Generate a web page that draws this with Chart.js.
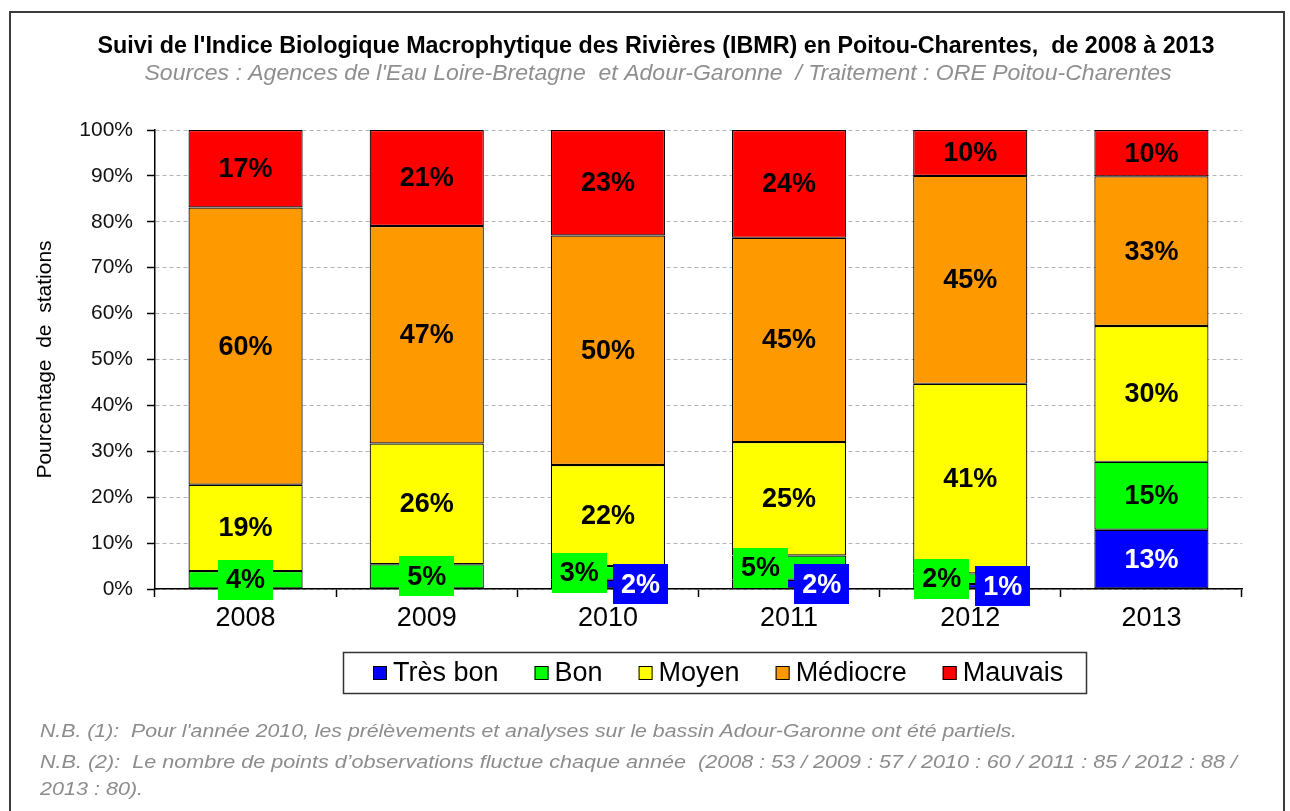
<!DOCTYPE html>
<html><head><meta charset="utf-8">
<script src="https://cdn.jsdelivr.net/npm/chart.js@4.4.0/dist/chart.umd.min.js"></script>
<style>
html,body{margin:0;padding:0;background:#fff;}
#wrap{position:relative;width:1290px;height:811px;overflow:hidden;background:#fff;}
#frame{position:absolute;left:9px;top:11px;width:1276px;height:830px;border:2px solid #3c3c3c;box-sizing:border-box;}
canvas{position:absolute;left:0;top:0;}
.fn{position:absolute;left:40px;font-family:'Liberation Sans',Arial,sans-serif;font-style:italic;font-size:19px;color:#8c8c8c;white-space:pre;transform-origin:0 50%;line-height:22px;}
</style></head><body>
<div id="wrap"><div id="frame"></div><canvas id="c" width="1290" height="811"></canvas>
<div class="fn" id="f1" style="top:720px">N.B. (1):  Pour l'année 2010, les prélèvements et analyses sur le bassin Adour-Garonne ont été partiels.</div>
<div class="fn" id="f2" style="top:751px">N.B. (2):  Le nombre de points d’observations fluctue chaque année  (2008 : 53 / 2009 : 57 / 2010 : 60 / 2011 : 85 / 2012 : 88 /</div>
<div class="fn" id="f3" style="top:778px">2013 : 80).</div>
</div>
<script>
const years = ['2008','2009','2010','2011','2012','2013'];
const tresBon  = [0, 0, 2, 2, 1.1, 12.9];
const bon      = [3.9, 5.4, 3, 5.3, 2.3, 14.8];
const moyen    = [18.8, 26.3, 22, 24.7, 41.3, 29.6];
const mediocre = [60.4, 47.4, 50, 44.5, 45.3, 32.6];
const mauvais  = [16.9, 20.9, 23, 23.5, 10, 10.1];
const yTicks = [0,10,20,30,40,50,60,70,80,90,100];
const seriesNames = ['Très bon','Bon','Moyen','Médiocre','Mauvais'];
const colors = ['#0000FF','#00FF00','#FFFF00','#FF9900','#FF0000'];
const titleText = "Suivi de l'Indice Biologique Macrophytique des Rivières (IBMR) en Poitou-Charentes,  de 2008 à 2013";
const subtitleText = "Sources : Agences de l'Eau Loire-Bretagne  et Adour-Garonne  / Traitement : ORE Poitou-Charentes";

const FONT = '"Liberation Sans", Arial, sans-serif';
Chart.defaults.font.family = FONT;
Chart.defaults.color = '#000';

function fitText(ctx, txt, cx, cy, target){
  const w = ctx.measureText(txt).width;
  const s = target / w;
  ctx.save(); ctx.translate(cx, cy); ctx.scale(s, 1); ctx.fillText(txt, 0, 0); ctx.restore();
}

const titlePlugin = {
  id:'titles',
  afterDraw(chart){
    const ctx = chart.ctx; ctx.save();
    ctx.textAlign='center'; ctx.textBaseline='middle';
    ctx.fillStyle='#000'; ctx.font='bold 23px '+FONT;
    fitText(ctx, titleText, 656, 47, 1117);
    ctx.fillStyle='#8f8f8f'; ctx.font='italic 22px '+FONT;
    fitText(ctx, subtitleText, 658, 74, 1027);
    ctx.restore();
  }
};

const labelPlugin = {
  id:'segLabels',
  afterDatasetsDraw(chart){
    const ctx = chart.ctx; ctx.save();
    ctx.font = 'bold 27px '+FONT;
    ctx.textAlign='center'; ctx.textBaseline='middle';
    [1,2,3,4,0].forEach(di=>{
      const ds = chart.data.datasets[di];
      const meta = chart.getDatasetMeta(di);
      meta.data.forEach((bar,i)=>{
        const v = ds.data[i]; if(!v) return;
        const txt = Math.round(v)+'%';
        const tw = ctx.measureText(txt).width;
        const bw = Math.round(tw+16), bh = 40;
        const p = bar.getProps(['x','y','base','width'], true);
        let cx = p.x, cy = (p.y+p.base)/2;
        const split = tresBon[i]>0 && tresBon[i]<5 && bon[i]>0;
        if(split && di===1) cx = p.x - p.width/2 + bw/2 + 1;
        if(split && di===0) cx = p.x + p.width/2 - bw/2 + 3;
        ctx.fillStyle = ds.backgroundColor;
        ctx.fillRect(Math.round(cx-bw/2), Math.round(cy-bh/2), bw, bh);
        ctx.fillStyle = di===0 ? '#fff' : '#000';
        ctx.fillText(txt, cx, cy+1);
      });
    });
    ctx.restore();
  }
};

const legendPlugin = {
  id:'customLegend',
  afterDraw(chart){
    const ctx = chart.ctx; ctx.save();
    ctx.strokeStyle='#333'; ctx.lineWidth=1.5;
    ctx.strokeRect(343.5,652.5,743,41);
    ctx.font='27px '+FONT; ctx.textBaseline='middle'; ctx.textAlign='left';
    let x = 373; const cy = 673;
    chart.data.datasets.forEach(ds=>{
      ctx.fillStyle = ds.backgroundColor; ctx.fillRect(x, cy-7, 14, 14);
      ctx.strokeStyle='#000'; ctx.lineWidth=1; ctx.strokeRect(x+0.5, cy-6.5, 13, 13);
      ctx.fillStyle='#000'; ctx.fillText(ds.label, x+20, cy+1);
      x += 20 + ctx.measureText(ds.label).width + 36;
    });
    ctx.restore();
  }
};

const seriesData = [tresBon, bon, moyen, mediocre, mauvais];
new Chart(document.getElementById('c'), {
  type:'bar',
  data:{
    labels: years,
    datasets: seriesData.map((d,k)=>({
      label: seriesNames[k], data: d,
      backgroundColor: colors[k], borderColor:'#000', borderWidth:1.2, borderSkipped:false,
      categoryPercentage:1, barPercentage:0.63
    }))
  },
  options:{
    responsive:false, animation:false,
    layout:{padding:{left:0, top:130, right:48, bottom:182}},
    plugins:{legend:{display:false}, title:{display:false}, tooltip:{enabled:false}},
    scales:{
      x:{
        stacked:true,
        grid:{display:true, drawOnChartArea:false, drawTicks:true, tickLength:8, tickColor:'#000', tickWidth:1.5, offset:true},
        border:{display:true, color:'#000', width:1.5},
        ticks:{font:{size:27}, color:'#000', padding:5},
        afterFit(s){ s.height = 40; }
      },
      y:{
        stacked:true, min:0, max:100,
        afterBuildTicks(s){ s.ticks = yTicks.map(v=>({value:v})); },
        grid:{color:'#b4b4b4', lineWidth:1, tickLength:8, tickColor:'#000', tickWidth:1.5},
        border:{display:true, color:'#000', width:1.5, dash:[4,3]},
        ticks:{font:{size:21}, color:'#111', padding:14, callback:v=>v+'%'},
        title:{display:true, text:'Pourcentage  de  stations', font:{size:21}, color:'#000', padding:{top:33, bottom:0}},
        afterFit(s){ s.width = 155; }
      }
    }
  },
  plugins:[labelPlugin, legendPlugin, titlePlugin]
});

function fitFn(id, target){
  const el = document.getElementById(id);
  const w = el.getBoundingClientRect().width;
  const s = target / w;
  el.style.transform = 'scaleX('+s+')';
  return s;
}
const s1 = fitFn('f1', 977);
const s2 = fitFn('f2', 1197);
document.getElementById('f3').style.transform = 'scaleX('+s2+')';
</script>
</body></html>
